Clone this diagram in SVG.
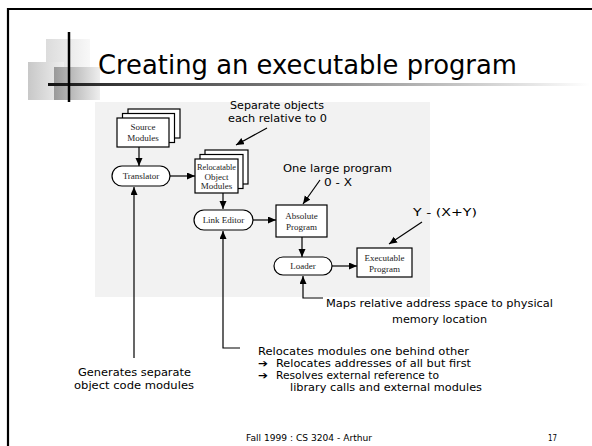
<svg xmlns="http://www.w3.org/2000/svg" width="592" height="446" viewBox="0 0 592 446">
  <defs>
    <linearGradient id="barGrad" x1="0" y1="0" x2="1" y2="0">
      <stop offset="0" stop-color="#111"/>
      <stop offset="0.1" stop-color="#333"/>
      <stop offset="0.5" stop-color="#888"/>
      <stop offset="1" stop-color="#fff"/>
    </linearGradient>
    <linearGradient id="sqLight" x1="0" y1="0" x2="1" y2="0">
      <stop offset="0" stop-color="#dcdcdc"/>
      <stop offset="1" stop-color="#f8f8f8"/>
    </linearGradient>
    <linearGradient id="sqMid" x1="0" y1="0" x2="1" y2="0">
      <stop offset="0" stop-color="#c8c8c8"/>
      <stop offset="1" stop-color="#efefef"/>
    </linearGradient>
    <linearGradient id="sqDark" x1="0" y1="0" x2="1" y2="0">
      <stop offset="0" stop-color="#999"/>
      <stop offset="1" stop-color="#eee"/>
    </linearGradient>
    <marker id="arrow" markerUnits="userSpaceOnUse" markerWidth="9" markerHeight="8" refX="8" refY="3.5" orient="auto">
      <path d="M0,0 L8,3.5 L0,7 z" fill="#000"/>
    </marker>
    <style>
      .sans { font-family: "DejaVu Sans", "Liberation Sans", sans-serif; fill: #000; }
      .serif { font-family: "Liberation Serif", "DejaVu Serif", serif; font-size: 9px; fill: #222; text-anchor: middle; }
      .lbl { font-size: 10.8px; }
      .bullet { font-size: 10.5px; font-weight: bold; }
      .box { fill: #fff; stroke: #000; stroke-width: 1.2; }
      .link { fill: none; stroke: #000; stroke-width: 1.2; }
      .arw { marker-end: url(#arrow); }
    </style>
  </defs>

  <!-- slide background and frame -->
  <rect x="0" y="0" width="592" height="446" fill="#fff"/>
  <line x1="8" y1="9" x2="592" y2="9" stroke="#000" stroke-width="2.2"/>
  <line x1="8" y1="8" x2="8" y2="446" stroke="#000" stroke-width="2.2"/>

  <!-- title decoration -->
  <g id="title-decor">
    <rect x="46" y="39" width="44" height="42" fill="url(#sqLight)"/>
    <rect x="28" y="62" width="36" height="38" fill="url(#sqMid)"/>
    <rect x="54" y="67" width="46" height="33" fill="url(#sqDark)"/>
    <rect x="48" y="83" width="542" height="3" fill="url(#barGrad)"/>
    <line x1="69" y1="32" x2="69" y2="102" stroke="#000" stroke-width="2.5"/>
  </g>
  <text id="title" class="sans" x="98" y="74" font-size="27" textLength="419" lengthAdjust="spacingAndGlyphs">Creating an executable program</text>

  <!-- scanned figure background -->
  <rect x="95" y="102" width="335" height="195" fill="#f2f2f2"/>

  <!-- connectors -->
  <g id="connectors">
    <line class="link arw" x1="139" y1="147" x2="139" y2="166"/>
    <line class="link arw" x1="170" y1="176" x2="195" y2="176"/>
    <line class="link arw" x1="267" y1="128" x2="236" y2="145"/>
    <line class="link arw" x1="223" y1="193" x2="223" y2="209"/>
    <line class="link arw" x1="253" y1="220" x2="276" y2="220"/>
    <line class="link arw" x1="320" y1="180" x2="303" y2="204"/>
    <line class="link arw" x1="302" y1="237" x2="302" y2="257"/>
    <line class="link arw" x1="332" y1="266" x2="357" y2="266"/>
    <line class="link arw" x1="422" y1="222" x2="389" y2="244"/>
    <line class="link arw" x1="134" y1="358" x2="134" y2="187"/>
    <polyline class="link arw" points="240,348 223,348 223,231"/>
    <polyline class="link arw" points="323,298 303,298 303,276"/>
  </g>

  <!-- nodes -->
  <g id="source-modules">
    <rect class="box" x="128" y="109" width="52" height="29"/>
    <rect class="box" x="122.5" y="113.5" width="52" height="29"/>
    <rect class="box" x="117" y="118" width="52" height="29"/>
    <text class="serif" x="143" y="130">Source</text>
    <text class="serif" x="143" y="140.5">Modules</text>
  </g>

  <g id="translator">
    <rect class="box" x="112" y="166" width="58" height="20" rx="10" ry="10"/>
    <text class="serif" x="141" y="179">Translator</text>
  </g>

  <g id="relocatable-modules">
    <rect class="box" x="205" y="150" width="43" height="34"/>
    <rect class="box" x="200" y="154.5" width="43" height="34"/>
    <rect class="box" x="195" y="159" width="43" height="34"/>
    <text class="serif" x="216.5" y="170" textLength="39" lengthAdjust="spacingAndGlyphs">Relocatable</text>
    <text class="serif" x="216.5" y="179.5">Object</text>
    <text class="serif" x="216.5" y="189">Modules</text>
  </g>

  <g id="link-editor">
    <rect class="box" x="194" y="210" width="59" height="20" rx="10" ry="10"/>
    <text class="serif" x="223.5" y="223">Link Editor</text>
  </g>

  <g id="absolute-program">
    <rect class="box" x="276" y="205" width="51" height="32"/>
    <text class="serif" x="301.5" y="219">Absolute</text>
    <text class="serif" x="301.5" y="229.5">Program</text>
  </g>

  <g id="loader">
    <rect class="box" x="274" y="257" width="58" height="18" rx="9" ry="9"/>
    <text class="serif" x="303" y="269">Loader</text>
  </g>

  <g id="executable-program">
    <rect class="box" x="357" y="248" width="55" height="29"/>
    <text class="serif" x="384.5" y="261">Executable</text>
    <text class="serif" x="384.5" y="271.5">Program</text>
  </g>

  <!-- annotations -->
  <g id="note-separate">
    <text class="sans lbl" x="230" y="109" textLength="94" lengthAdjust="spacingAndGlyphs">Separate objects</text>
    <text class="sans lbl" x="228" y="122" textLength="99" lengthAdjust="spacingAndGlyphs">each relative to 0</text>
  </g>
  <g id="note-large">
    <text class="sans lbl" x="283" y="172" textLength="109" lengthAdjust="spacingAndGlyphs">One large program</text>
    <text class="sans lbl" x="324" y="186" textLength="28" lengthAdjust="spacingAndGlyphs">0 - X</text>
  </g>
  <g id="note-y">
    <text class="sans lbl" x="413" y="216" textLength="64" lengthAdjust="spacingAndGlyphs">Y - (X+Y)</text>
  </g>
  <g id="note-maps">
    <text class="sans lbl" x="326" y="307" textLength="227" lengthAdjust="spacingAndGlyphs">Maps relative address space to physical</text>
    <text class="sans lbl" x="392" y="323" textLength="95" lengthAdjust="spacingAndGlyphs">memory location</text>
  </g>
  <g id="note-generates">
    <text class="sans lbl" x="78" y="376" textLength="113" lengthAdjust="spacingAndGlyphs">Generates separate</text>
    <text class="sans lbl" x="74" y="389" textLength="120" lengthAdjust="spacingAndGlyphs">object code modules</text>
  </g>
  <g id="note-relocates">
    <text class="sans lbl" x="258" y="355" textLength="211" lengthAdjust="spacingAndGlyphs">Relocates modules one behind other</text>
    <text class="sans bullet" x="258" y="367" textLength="10" lengthAdjust="spacingAndGlyphs">➔</text>
    <text class="sans lbl" x="276" y="367" textLength="195" lengthAdjust="spacingAndGlyphs">Relocates addresses of all but first</text>
    <text class="sans bullet" x="258" y="379" textLength="10" lengthAdjust="spacingAndGlyphs">➔</text>
    <text class="sans lbl" x="276" y="379" textLength="163" lengthAdjust="spacingAndGlyphs">Resolves external reference to</text>
    <text class="sans lbl" x="290" y="391" textLength="192" lengthAdjust="spacingAndGlyphs">library calls and external modules</text>
  </g>

  <!-- footer -->
  <text class="sans" x="246" y="441" font-size="9" textLength="126" lengthAdjust="spacingAndGlyphs">Fall 1999 : CS 3204 - Arthur</text>
  <text class="sans" x="548" y="441" font-size="9" textLength="9" lengthAdjust="spacingAndGlyphs">17</text>
</svg>
